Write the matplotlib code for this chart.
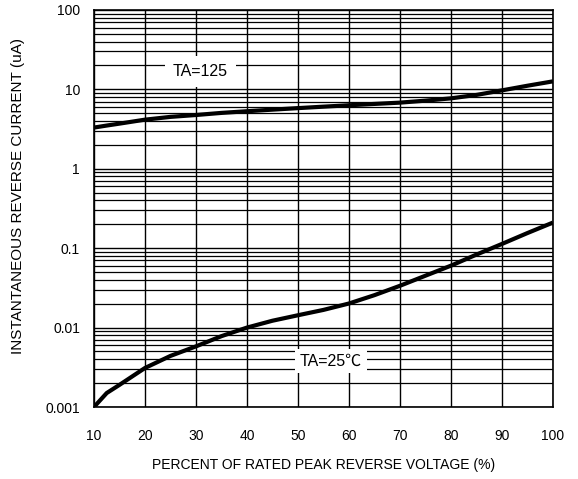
import matplotlib.pyplot as plt
import matplotlib.ticker as mticker

plt.rcParams['font.family'] = ['Liberation Sans', 'Noto Sans CJK SC', 'DejaVu Sans']

# percent of rated peak reverse voltage
volt_pct = [10, 12.5, 15, 20, 25, 30, 35, 40, 45, 50, 55, 60, 65, 70, 75, 80, 85, 90, 95, 100]

# reverse current (uA) at TA=125
i_125 = [3.30, 3.50, 3.70, 4.15, 4.50, 4.75, 5.05, 5.30, 5.55, 5.80, 6.05, 6.30, 6.55, 6.80, 7.20, 7.70, 8.50, 9.70, 11.1, 12.6]

# reverse current (uA) at TA=25
i_25 = [0.001, 0.0015, 0.0019, 0.0031, 0.0044, 0.0058, 0.0078, 0.0100, 0.0122, 0.0143,
        0.0167, 0.0201, 0.0256, 0.0336, 0.0450, 0.0602, 0.083, 0.113, 0.155, 0.21]

y_ticks = [0.001, 0.01, 0.1, 1, 10, 100]
y_tick_labels = ['0.001', '0.01', '0.1', '1', '10', '100']

fig = plt.figure(figsize=(5.78, 4.79), dpi=100)
ax = fig.add_axes([0.1626, 0.1503, 0.794, 0.829])

ax.set_yscale('log')
ax.set_xlim(10, 100)
ax.set_ylim(0.001, 100)

# grid: every 10 % and every log minor step
ax.set_xticks(range(10, 101, 10))
ax.xaxis.set_minor_locator(mticker.NullLocator())
ax.set_yticks(y_ticks)
ax.set_yticklabels(y_tick_labels)
ax.yaxis.set_minor_locator(mticker.LogLocator(base=10, subs=range(2, 10)))
ax.yaxis.set_minor_formatter(mticker.NullFormatter())
ax.grid(True, which='major', color='black', lw=1.0)
ax.grid(True, which='minor', axis='y', color='black', lw=0.9)
ax.tick_params(axis='x', which='both', length=0, labelsize=10, pad=16)
ax.tick_params(axis='y', which='both', length=0, labelsize=10, pad=10)

for sp in ax.spines.values():
    sp.set_linewidth(1.2)

ax.plot(volt_pct, i_125, color='black', lw=3, solid_capstyle='butt', zorder=3)
ax.plot(volt_pct, i_25, color='black', lw=3, solid_capstyle='butt', zorder=3)

ax.text(30.8, 16.7, 'TA=125', fontsize=11.5, ha='center', va='center', zorder=4,
        bbox=dict(boxstyle='square,pad=0.5', facecolor='white', edgecolor='none'))
ax.text(56.5, 0.0038, 'TA=25\u2103', fontsize=11.5, ha='center', va='center', zorder=4,
        bbox=dict(boxstyle='square,pad=0.3', facecolor='white', edgecolor='none'))

ax.set_xlabel('PERCENT OF RATED PEAK REVERSE VOLTAGE (%)', fontsize=10)
ax.set_ylabel('INSTANTANEOUS REVERSE CURRENT (uA)', fontsize=11)
ax.xaxis.set_label_coords(0.5, -0.128)
ax.yaxis.set_label_coords(-0.150, 0.531)

fig.savefig('out.png', dpi=100)
